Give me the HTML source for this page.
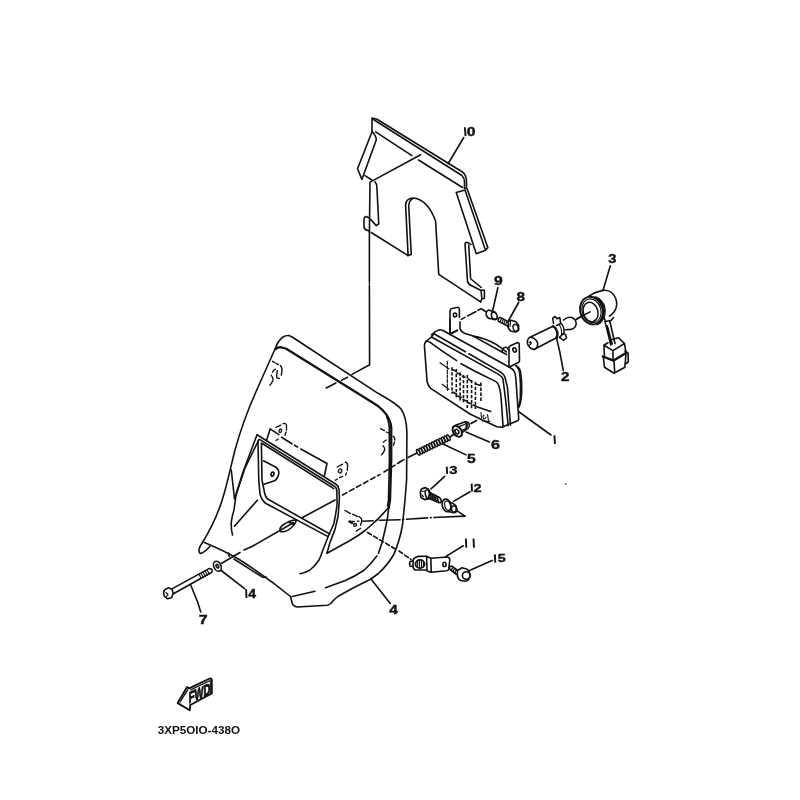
<!DOCTYPE html>
<html><head><meta charset="utf-8"><style>
html,body{margin:0;padding:0;background:#fff;width:800px;height:800px;overflow:hidden}
svg{display:block}
text{font-family:"Liberation Sans",sans-serif}
</style></head><body>
<svg width="800" height="800" viewBox="0 0 800 800">
<g fill="none" stroke="#111" stroke-width="1.6" stroke-linejoin="round" stroke-linecap="round">
<!-- 01_part_10.svg -->
<path d="M372,131 L372,118 L377,119.2 L462.8,172.3 Q466.5,175.3 466.5,182 L466.5,188.5"/>
<path d="M372.5,119 L375,120.5 L461.9,175.5 Q464.5,178 464.5,182 L464.5,188.5 L466.5,188.5"/>
<path d="M375.6,131.9 L411.9,155.6 M418.5,160 L462.5,187.5"/>
<path d="M370.6,181.9 L420.6,154.75"/>
<path d="M372.25,131.25 L357.5,168.75 L361.9,179.4 L376.25,140 Q376.5,137 373.1,132.5"/>
<path d="M365,175.6 L371.9,180"/>
<path d="M370,182.5 L369.4,232"/>
<path d="M375,181.9 Q377,184 376.9,187.5 L378.75,223.75 L376.25,225.6 L370.6,219.4"/>
<path d="M369.5,218 L366,216.5 Q364,217 364,220 L364,227 Q364.5,230 368,230.5 L369.5,231"/>
<path d="M371.25,232.5 L408.1,255.6 L405.6,205 Q406,198 413.75,198 Q428,200 435.6,221.25 L438.75,274.4 L480.6,301.9"/>
<path d="M408.1,255.6 L411.25,254.4 L408.75,206.25 Q409,200 413,198.5"/>
<path d="M465,190 L456.25,192.5 L476.25,253.75 L485.5,250.2 M465,190 L485.5,250.2 M467.3,189.2 L487.8,247.6 L485.5,250.2"/>
<path d="M471,244.5 Q466,240.5 465,244 L467.5,281.25 Q468,284 471.25,285.5 L481,290.5 L481.9,298.75 L480.6,301.9"/>
<path d="M468.75,245 L470.6,278.75 L481.25,287.5 M481,290.5 L484.4,290 L484.4,298.5 L481.9,298.75"/>
<!-- 02_part_1_headlight.svg -->
<path d="M450,333.75 L450,311.25 Q450.5,308.5 452,308.5 L458,307.3 Q459.4,307.8 459.4,309.5 L459.4,317.5"/>
<path d="M450,333.75 L457.5,330 M449.9,320 L449.9,334.6 M451.75,333.5 L457.4,330.5"/>
<ellipse cx="455" cy="315" rx="1.6" ry="2"/>
<path d="M460,321.9 L460,328.5 Q461,332 465,333.5 L473.25,336.1 Q478,337 483.75,338.75 Q492,341.5 496.9,344.9 L506.5,351.9"/>
<path d="M473.25,336.1 L506.5,354.5"/>
<path d="M502,352 Q502.5,347.5 505.5,347.3 Q508,347.5 508.5,350"/>
<path d="M426.25,341.2 L431.5,337 L434,333.6"/>
<path d="M431.5,334.8 Q435,331 439.5,329.8 Q441.5,329.8 443,330.5 L509,367"/>
<path d="M434,333.75 L465.4,351.8 M468.9,353.8 L499.5,371.4 Q504,374 505,377.5 L507.4,386.9 L510.5,425.3"/>
<path d="M431.5,337 L496,372.9 Q502,376 503,379 L505.6,400 L508.25,425.6"/>
<path d="M426.25,341.25 Q428,341 429.4,341.9 Q443,352 456.6,360.6 M461,363.7 Q477,372.5 492.5,379.9 Q497,382 497.75,383.4 Q500.5,388 501.25,400 L503,425.5 Q503,427.5 501.5,427.3 L497,426.75 Q482,420 470,414 L431,388.7 Q428,386 427.1,381.75 L424.4,345.5 Q424.5,342.5 426.25,341.25"/>
<path d="M509,367 Q513,369 514.25,371.5 Q515.5,374 515.75,377.5 L518.75,419.3 Q518.5,420.5 517,421 L502.25,427"/>
<path d="M515.75,365.5 Q520,368 520.5,372 Q522,380 521.75,390 Q521.5,402 518.75,407.5"/>
<path d="M516.5,366 Q519.5,369 519.8,374 Q521,385 520.3,398 Q519.8,404 518.2,407"/>
<path d="M509,346.75 L509,367 Q509.5,367.2 510.5,366.5 L518.7,362.2 Q519.5,361.5 519.5,360 L519.2,344 Q518.8,342.5 517.5,342.6 L510.5,345.8 Q509,346.5 509,347"/>
<ellipse cx="514.6" cy="349.9" rx="1.7" ry="2.2" transform="rotate(-20 514.6 349.9)"/>
<path d="M518.75,411.75 L551,435"/>
<!-- 03_lens_pattern.svg -->
<g stroke-width="1.2">
<path d="M440.1,362.7 L449,369 M442.2,384.3 L449,389.4"/>
<path d="M447.3,361.4 L447.3,390.3" stroke-dasharray="3,1.5"/>
</g>
<g stroke-width="1.6" stroke-dasharray="3.3,1.7" stroke-linecap="butt">
<path d="M452,367.3 L452,393.7"/>
<path d="M456.3,369 L456.3,398"/>
<path d="M460.1,372.4 L460.1,400.5"/>
<path d="M463.5,375 L463.5,402.2"/>
<path d="M467.3,375 L467.3,408.1"/>
<path d="M471.6,380 L471.6,409"/>
<path d="M475.4,381.8 L475.4,409"/>
<path d="M480.9,382.6 L480.9,402.2"/>
</g>
<g stroke-width="1.5">
<path d="M452,369.5 L456.5,371.3 M457,373 L461,374.8 M462.5,376.3 L465,377.3 M468,379 L471.5,381.2 M476,384 L480.5,385.5"/>
<path d="M452.4,392 L456.5,394 M457.5,396 L461.5,397.5 M463,399.5 L466.5,401 M468,402.5 L471.5,404 M473,405 L476.5,406.5 M477.5,407 L490.7,411.5"/>
<path d="M481,412.5 L481.5,418 M484,415 Q482.5,416 483.5,418.5 Q485.5,419.5 486,417 M487.5,414.5 L488.5,421 M482,421 L490,421.5" stroke-width="1.1"/>
</g>
<!-- 04_parts_9_8.svg -->
<path d="M461.25,319.4 L465,317.4 M467.5,316 L476,311.5 M478,310.3 L481.25,308.75 L485.6,311.5"/>
<path d="M488.4,310.1 L494.6,312.1 M490.1,318.6 L496.3,319.2 M488.4,310.1 Q485.5,311.5 486.3,315 Q487.3,318.3 490.1,318.6"/>
<ellipse cx="494.3" cy="315.9" rx="2.7" ry="3.8" transform="rotate(-20 494.3 315.9)" stroke-width="1.6"/>
<path d="M492.65,310.7 L497.9,287.5"/>
<path d="M500.25,317.4 L508.7,321.9 M498.5,321.4 L508.1,326.4 M500.25,317.4 Q497.5,318 498.5,321.4"/>
<path d="M501.5,318.5 L500.3,321.6 M503.3,319.5 L502.1,322.6 M505.1,320.4 L503.9,323.5 M506.9,321.3 L505.7,324.4" stroke-width="1.2"/>
<path d="M508.3,321.5 L511,320.3 L515.5,321.5 L518.5,325 L518.6,330 L515.5,332 L510.5,331 L508.1,327.5 Z" stroke-width="1.7" fill="#fff"/>
<ellipse cx="515.7" cy="327.9" rx="2.5" ry="3.6" transform="rotate(-20 515.7 327.9)" stroke-width="1.4"/>
<path d="M510.5,321.5 L510,326.5" stroke-width="1.2"/>
<path d="M508.7,320.25 L518.8,302.25"/>
<!-- 05_part_4_cover.svg -->
<path d="M202.5,542.5 Q197,550 200,553.3 Q203,554 210,546.25"/>
<path d="M202.5,542.5 C212,527 219,512 224,494 C228,480 231,466 235,450 C240,432 247,412 255,394 C262,378 270,360 275.5,348 Q278.5,340 283,337 Q286,335.3 289,335.6 Q292.5,337 296,339.5 L378,393.3 C386,397.8 396,403 401,409 C404.5,414 406.5,421 406.9,432 L406.6,480 L405,500 L402.5,525 Q400,540 393.75,554.5 Q387,566 378,573.75 L371,579 Q362,583.5 353.5,587.75 L337.75,596.5 Q333.5,600 330.75,603.5 Q329,605 327.25,605.25 L297.5,607 Q293,606 292.25,603.5 L290.5,596.5"/>
<path d="M204.4,542.5 Q225,551 240,560 Q268,578 290.5,596.5"/>
<path d="M275.5,349 Q278,347 281.25,347.3 Q284,347.8 286.25,348.75 L372.5,402.5 Q378,405.5 382.5,410 Q386.5,414 388.75,418.75 Q391,423 391.25,427.5 L391.25,460 L390,500 L388.75,507.5" stroke-width="2.3"/>
<path d="M388.75,507.5 Q388,518 385,530 Q382.5,543 378.5,553.3 M376.8,556 Q371,564 364,570.25 Q354,577 344.75,580.75 L325.5,587.75 M315,591.25 L292.25,596.5"/>
<path d="M388.75,507.5 Q378,520 365.75,530 Q358,536 350,540.5 L327,553.25"/>
<path d="M386.6,416.5 Q388.8,421 389.3,427 L389.4,460 L388.5,500 L387.6,506"/>
<!-- 06_window_frame.svg -->
<path d="M231.25,470 L234.5,499 L243,472 L257.05,434.75 L335.6,484 Q338.6,486 339,489.5 L339.4,498 L338.25,515 Q337,522 334.9,529.6 L329.8,543 L327,553.25"/>
<path d="M258,441.5 Q258.5,439.2 260,439.6 L334.3,486.2 Q336.6,487.8 336.8,490.5 L337.1,503.75 Q336,514 333.75,524 L328.7,535.25 L322.5,551 Q320.5,557 319,560 Q315,566 310,570 Q305,573 300,573.75"/>
<path d="M258,441.5 L245,468 L236,495 L234,510 Q232,516 231.25,522.5 Q231,530 232.5,535"/>
<path d="M258,441.5 L258.75,480 L260,494 Q262,501 266,503.5 L327.6,536.4"/>
<path d="M261.4,443 L333.8,488.6 M261.4,443 L262,480 L264.4,492 Q265.5,498 268.5,499.5 L329.8,534"/>
<path d="M234.4,526.25 L257.5,500"/>
<!-- 07_tab_with_hole.svg -->
<path d="M263.5,460.8 L275.5,467 Q279.3,469.5 278.8,473.5 Q278,478.5 274.5,480.8 L264,484.3"/>
<ellipse cx="272.5" cy="474.1" rx="1.4" ry="2.1" transform="rotate(15 272.5 474.1)" stroke-width="1.7"/>
<!-- 08_label_rect.svg -->
<path d="M266.6,440.3 L270.1,428.9 L278.9,434.6 M281.5,437.25 L292,443.8 M294.5,445.2 L297.5,447 M300.75,449 L327,463.5 L324.4,475.75"/>
<!-- 09_blade.svg -->
<path d="M233.9,559 L262,576.9 Q264,577.6 266,577"/>
<path d="M228.5,553.2 L229.3,556.3" stroke-width="1.8"/>
<!-- 10_slot.svg -->
<path d="M280,531.25 Q279,528 283,525 Q290,520 296.25,520 Q296,524 291,528 Q285,533 280,531.25 Z"/>
<path d="M289,522 L293.5,524" stroke-width="2.4"/>
<!-- 11_part_2_bulb.svg -->
<path d="M529.5,337.5 L553,326.3 M534,349.5 L556.5,337.8"/>
<path d="M529.5,337.5 Q526.5,340 527.6,344 Q529,348.5 534,349.5"/>
<path d="M531.75,337.5 Q536.5,339 537.75,343.5 Q537.5,348 535.2,349"/>
<path d="M529,342 L531,343.5 L529.2,345.5 M530.5,341.5 Q532,343 530.6,344.5" stroke-width="1.1"/>
<path d="M553,326.3 Q557.5,329 557.5,335 L556.5,337.8" stroke-width="2.4"/>
<path d="M556.5,325.5 L561,323.5 Q564.5,326.5 564,333 L559.5,337.3"/>
<path d="M559,324.5 Q562,328 561.5,334.5" stroke-width="1.1"/>
<path d="M553.5,323.5 L552.8,318.2 L555,316.5 L557,318.8 L559.8,317.5 L560.5,322.5"/>
<path d="M562,333.8 L565.5,334.5 L566.5,338 L563.5,340.5 L561,338.5 L559.5,337.3"/>
<path d="M563.5,320 Q567,316.8 571.5,317.4 Q576.3,319 576.2,323.8 Q575.8,328.5 571,329.4 L565.5,329.8"/>
<path d="M576,319.5 L590,311.9" stroke-dasharray="5,2"/>
<path d="M556.5,337.8 L559.8,352 L563.3,370.7"/>
<!-- 12_part_3_socket.svg -->
<path d="M588.5,296.5 Q595,292 602.5,290.4 Q608,289.5 611.5,292.5 Q615.5,296 616.5,301.5 Q617.5,307 614,312 Q612,314.5 609.5,316"/>
<path d="M603,290.4 L610.3,265.75"/>
<path d="M603.75,316.5 L605.5,321.5 L611,320.5 L613.5,317.5"/>
<path d="M595.5,297.5 Q603.5,302 603.8,311 Q603.5,320.5 597.5,324" stroke-width="2.6"/>
<path d="M598.5,298.2 Q605.3,303 605.3,311 Q605,319 600,323" stroke-width="1.1"/>
<ellipse cx="591.5" cy="310.6" rx="11.2" ry="14" transform="rotate(-16 591.5 310.6)" stroke-width="1.9" fill="#fff"/>
<ellipse cx="591.5" cy="310.8" rx="9.4" ry="12" transform="rotate(-16 591.5 310.8)" stroke-width="1.2"/>
<ellipse cx="590.6" cy="312" rx="7.3" ry="9.8" transform="rotate(-16 590.6 312)" stroke-width="1.5"/>
<path d="M590,311.9 L577,318.7" />
<path d="M605,321.5 L610.8,345 M609.8,321.2 L615,343.5 M607.3,326 L612.2,344" />
<path d="M603.9,345.2 L613,350.6 L624.5,343.5 L618.4,337.7 L612,339.5 M603.9,345.2 L608,342.8 M613,350.6 L613,358.7 M603.9,345.2 L604.5,356.5 M624.5,343.5 L626,352.5"/>
<path d="M602.8,356.5 L613.6,360.6 L626,353" stroke-width="2.4"/>
<path d="M603.4,357.6 L604.5,367.3 L614,373.2 L624.9,367.3 L626,353.3 M614,360.8 L614.7,372.6"/>
<path d="M624.9,351 L628.1,353 L628.3,362 L625.3,364"/>
<!-- 13_part_5_spring.svg -->
<path d="M400,461.75 L404,459.6 M408,457.5 L417,453" />
<g stroke-width="1.45">
<ellipse cx="418.30" cy="452.30" rx="1.3" ry="3.1" transform="rotate(-26.1 418.30 452.30)"/>
<ellipse cx="420.80" cy="451.07" rx="1.3" ry="3.1" transform="rotate(-26.1 420.80 451.07)"/>
<ellipse cx="423.30" cy="449.85" rx="1.3" ry="3.1" transform="rotate(-26.1 423.30 449.85)"/>
<ellipse cx="425.80" cy="448.62" rx="1.3" ry="3.1" transform="rotate(-26.1 425.80 448.62)"/>
<ellipse cx="428.30" cy="447.40" rx="1.3" ry="3.1" transform="rotate(-26.1 428.30 447.40)"/>
<ellipse cx="430.80" cy="446.18" rx="1.3" ry="3.1" transform="rotate(-26.1 430.80 446.18)"/>
<ellipse cx="433.30" cy="444.95" rx="1.3" ry="3.1" transform="rotate(-26.1 433.30 444.95)"/>
<ellipse cx="435.80" cy="443.73" rx="1.3" ry="3.1" transform="rotate(-26.1 435.80 443.73)"/>
<ellipse cx="438.30" cy="442.50" rx="1.3" ry="3.1" transform="rotate(-26.1 438.30 442.50)"/>
<ellipse cx="440.80" cy="441.28" rx="1.3" ry="3.1" transform="rotate(-26.1 440.80 441.28)"/>
<ellipse cx="443.30" cy="440.05" rx="1.3" ry="3.1" transform="rotate(-26.1 443.30 440.05)"/>
<ellipse cx="445.80" cy="438.83" rx="1.3" ry="3.1" transform="rotate(-26.1 445.80 438.83)"/>
<ellipse cx="448.30" cy="437.60" rx="1.3" ry="3.1" transform="rotate(-26.1 448.30 437.60)"/>
</g>
<path d="M443,444 L466,454.9"/>
<!-- 14_part_6_grommet.svg -->
<path d="M450,437 L455,433.5"/>
<path d="M455.5,425.3 L465.3,421.8 Q468.5,421.8 469.3,424.5 Q469.8,426.5 468.5,427.8 L462,432.5"/>
<path d="M465.5,422.3 Q467.5,424 466.5,427.3" stroke-width="2.2"/>
<path d="M459.5,426.4 L464.5,424.5 M462,430.3 L466.8,428" stroke-width="1.3"/>
<ellipse cx="457.3" cy="431.3" rx="4" ry="6" transform="rotate(-35 457.3 431.3)" stroke-width="2" fill="#fff"/>
<ellipse cx="456.9" cy="431.6" rx="1.7" ry="2.5" transform="rotate(-35 456.9 431.6)"/>
<path d="M466,432 L489.4,441.9"/>
<path d="M471,423.5 L476.5,420.5" stroke-width="1.6"/>
<!-- 15_part_7_bolt.svg -->
<path d="M171,589.4 L209,568.6 Q212.5,568.5 212.2,571.2 Q211.8,572.3 211,572.8 L172.5,594.3"/>
<path d="M199.2,574.6 L201.2,578.5 M201.2,573.5 L203.2,577.4 M203.2,572.4 L205.2,576.3 M205.2,571.3 L207.2,575.2 M207.2,570.2 L209.2,574.1" stroke-width="1.1"/>
<path d="M165,589.5 L168.5,587.8 L172,589.3 L173.2,593.5 L171.5,597.8 L167.5,598.8 L164.2,596 L163.6,592 Z" stroke-width="1.6" fill="#fff"/>
<path d="M166,592.5 L168,594.5 L166.5,596.3" stroke-width="1.1"/>
<path d="M190.6,584.75 L197.6,602 L200.75,612"/>
<!-- 16_part_14_washer.svg -->
<ellipse cx="217.4" cy="566.2" rx="3.6" ry="5.2" transform="rotate(-25 217.4 566.2)" stroke-width="1.6"/>
<ellipse cx="217.4" cy="566.2" rx="1.2" ry="1.9" transform="rotate(-25 217.4 566.2)"/>
<path d="M220.9,570.25 L244.5,588.6"/>
<!-- 17_part_13_bolt.svg -->
<path d="M428.5,492 L438.5,497 M428.5,498.25 L438.5,502.6"/>
<ellipse cx="439.3" cy="499.9" rx="1.6" ry="2.9" transform="rotate(-25 439.3 499.9)"/>
<g stroke-width="1.3">
<ellipse cx="431.5" cy="495.8" rx="1.2" ry="3" transform="rotate(-25 431.5 495.8)"/>
<ellipse cx="433.8" cy="497" rx="1.2" ry="3" transform="rotate(-25 433.8 497)"/>
<ellipse cx="436.1" cy="498.2" rx="1.2" ry="3" transform="rotate(-25 436.1 498.2)"/>
</g>
<path d="M421.5,489 L425,487.6 L428.5,489.2 L429.5,494 L428.2,498.8 L424.5,499.6 L421,497.5 L420.3,492.5 Z" stroke-width="1.7" fill="#fff"/>
<ellipse cx="428" cy="494.3" rx="2.6" ry="4.6" transform="rotate(-15 428 494.3)" stroke-width="1.5"/>
<path d="M422.5,491.5 L424.5,491 M422,495 L423.3,496.5" stroke-width="1.2"/>
<path d="M431,488.9 L444.7,476.3"/>
<!-- 18_part_12_collar.svg -->
<path d="M448.5,501.5 L453,503.5 Q457,505.5 456.6,509.5 Q456,512.8 452.5,512.5 L448.5,511.5"/>
<ellipse cx="446.6" cy="505.4" rx="4.3" ry="6.5" transform="rotate(-15 446.6 505.4)" stroke-width="1.6" fill="#fff"/>
<ellipse cx="447.6" cy="505.6" rx="2.8" ry="4.9" transform="rotate(-15 447.6 505.6)" stroke-width="1.2"/>
<ellipse cx="454.1" cy="509.2" rx="2.5" ry="3.4" transform="rotate(-15 454.1 509.2)"/>
<path d="M453.5,501.4 L470,491.7"/>
<path d="M465,516.1 L456,510.1"/>
<path d="M465,516.1 L434,517.5 M431.2,517.6 L430.4,517.7 M427.6,517.9 L406.5,519.2 M403.7,519.4 L402.9,519.5 M400.1,519.7 L379.5,520.2 M376.7,520.4 L375.9,520.5 M373.1,520.7 L362.5,521.25"/>
<!-- 19_part_11_stay.svg -->
<path d="M430.75,558.25 L447.5,557 Q449.8,557.3 449.8,560 L448.6,569.5 Q448.2,570.6 446.5,570.8 L430.75,572.3"/>
<ellipse cx="444.4" cy="564.4" rx="1.6" ry="2.1"/>
<path d="M426.6,556.3 L430.75,558.25 L431.3,572.3 L427,571 L426.6,556.3 Z"/>
<path d="M426.6,556.3 L418.4,556.4 Q414,557.5 413.2,560 L413,566.5 Q413.5,569.5 415.5,570 L426,570"/>
<ellipse cx="420" cy="564" rx="4.6" ry="4.2" stroke-width="1.7"/>
<path d="M417.5,561 L417.2,567 M419.5,560.2 L419.3,567.8 M421.5,560.2 L421.5,567.8 M423.5,561 L423.5,567" stroke-width="1.2"/>
<path d="M413,561 L410,561.5 Q409.2,563.5 410,566 L413,566.5"/>
<path d="M445.6,556.6 L463.25,545.75"/>
<path d="M367.5,532.5 L395,548.75 M399,551 L411,559.5" stroke-dasharray="4.5,2.5"/>
<!-- 20_part_15_bolt.svg -->
<path d="M451.5,566 L458.5,571 M449.5,569 L456.5,574.5 M451.5,566 Q448.8,566.8 449.5,569"/>
<path d="M453.2,567.2 Q451.2,568.6 451.6,570.6 M455,568.5 Q453,570 453.4,572 M456.8,569.8 Q454.8,571.2 455.2,573.2" stroke-width="1.2"/>
<path d="M457.5,570.5 L462,567.8 L466.5,569 Q470,571 470,576 Q469.5,580.5 465.5,581.3 L460.5,580.5 Q457.3,578.5 457.3,574.5 Z" stroke-width="1.6" fill="#fff"/>
<circle cx="466.2" cy="575.6" r="3.8"/>
<path d="M469.5,570.6 L492.1,560.4"/>
<!-- 21_leaders.svg -->
<path d="M448.1,163.75 L463.75,137.5"/>
<path d="M371,579 L390.25,603.5"/>
<!-- 22_part10_vertical_centerline.svg -->
<path d="M369.4,232 L369.4,282 M369.4,283.4 L369.4,284 M369.4,285.5 L369.6,364.7 L352,374.4 M347.5,377.25 L341.5,380.4 M336,383 L326.25,388"/>
<!-- 23_fwd_arrow.svg -->
<path d="M177.7,703.1 L187.1,687.1 L189.2,688.4 L209.7,678.5 Q211.8,678.6 211.8,680 L211.8,693.4 L190.3,705 L189.75,710.2 Z" stroke-width="1.9"/>
<path d="M180,702.2 L188,689.6 M190.5,690 L210.3,680.6 M210.3,680.6 L210.3,692.8" stroke-width="1.1"/>
<path d="M180.8,700 L187,690.5 M191.5,689.3 L209,681" stroke-width="0.8" stroke-dasharray="1,1"/>
<!-- 24_fasteners.svg -->
<g stroke-width="1.35">
<path d="M272.5,361.3 L274.7,362.65 M276,363.3 L278.6,364.6 M280.4,365.5 Q282.6,368 282,371 L281.25,375.1 M275.5,369.2 Q273.5,370 272.5,372.1 M277.3,370.75 Q276.2,375 276.9,377.75 L279.5,378.6 M271.2,375.1 Q273.5,378 272.9,380.4 Q271.8,383 269.9,385.2"/>
<path d="M276,427.4 L280.9,425.1 M283.1,423.6 Q286.5,423 286.5,425.5 L286.5,430 M286,432 L285,435.25 M276,440.5 L278.25,439"/>
<ellipse cx="280.3" cy="430.75" rx="1.2" ry="1.8" transform="rotate(20 280.3 430.75)"/>
<path d="M380.5,428.7 L384.4,430.6 M386.25,432 L388.6,433 M393.4,436.25 Q395.2,438 394.8,440 M394.5,442 L393.4,445.3 M386.25,440 Q384,441 383.4,442.4 M383,445.75 Q384.8,447.5 384.8,449.5 Q384,452.5 381.5,454.8"/>
<path d="M337.1,467 L342.6,464.1 M345.2,462.2 Q347.7,463 347.6,465.5 L347.3,470.4 M346.45,473 L345.6,475.1 M342.6,476.4 L339.65,477.7 M337.5,479 L335.4,480.2"/>
<ellipse cx="340.1" cy="470.9" rx="1.6" ry="2" transform="rotate(20 340.1 470.9)"/>
<path d="M344.9,510.4 L350.5,513.6 M352.75,514.2 L357.6,516.6 M359.1,516.6 Q361.75,518 361.75,520 L361.6,521.9 L360.4,525.25 M349.4,521.5 L354.25,521.5 M356.1,531.25 L360.6,528.25 M357.25,521.1 L359,521.1"/>
<path d="M349.4,521.5 L352,523" stroke-width="2.2"/>
<circle cx="355" cy="524.9" r="1.4"/>
</g>
<!-- 25_centerline_7_6.svg -->
<path d="M221.75,563.25 L240,552.5 M244,550 L252.5,546.25 L293.75,522.5 M302.5,517.5 L335,500"/>
<path d="M342.5,495 L380,474.4 M384,472 L400,462" stroke-dasharray="5,3"/>
<!-- 26_speck.svg -->
<circle cx="565.8" cy="483.9" r="0.9" fill="#555" stroke="none"/>
</g>
<g style="opacity:0.999">
<g class="lbl" fill="#111" stroke="#111" stroke-width="3" font-weight="bold">
<text font-size="100" transform="matrix(0.15789 0 0 0.12359 466.87 135.88)">0</text>
<text font-size="100" transform="matrix(0.15702 0 0 0.12712 494.05 284.77)">9</text>
<text font-size="100" transform="matrix(0.15314 0 0 0.12288 516.61 300.78)">8</text>
<text font-size="100" transform="matrix(0.14688 0 0 0.12694 608.26 263.36)">3</text>
<text font-size="100" transform="matrix(0.15177 0 0 0.13682 561.07 380.80)">2</text>
<text font-size="100" transform="matrix(0.16149 0 0 0.12359 491.00 448.63)">6</text>
<text font-size="100" transform="matrix(0.15694 0 0 0.12464 467.01 462.68)">5</text>
<text font-size="100" transform="matrix(0.14889 0 0 0.10437 449.26 473.89)">3</text>
<text font-size="100" transform="matrix(0.14553 0 0 0.11318 473.59 491.50)">2</text>
<text font-size="100" transform="matrix(0.14386 0 0 0.11819 497.65 562.13)">5</text>
<text font-size="100" transform="matrix(0.15299 0 0 0.13081 389.17 613.80)">4</text>
<text font-size="100" transform="matrix(0.13993 0 0 0.13081 248.29 598.00)">4</text>
<text font-size="100" transform="matrix(0.15991 0 0 0.13081 198.81 623.50)">7</text>
</g>
<g stroke="#111" stroke-width="1.9" stroke-linecap="butt" fill="none">
<path d="M464.9,127.3 L465.5,136.0"/>
<path d="M554.3,435.4 L555.0,443.8"/>
<path d="M446.7,466.6 L447.2,474.0"/>
<path d="M471.6,483.6 L472.0,491.5"/>
<path d="M465.9,538.6 L466.3,547.6"/>
<path d="M473.5,538.6 L474.0,547.6"/>
<path d="M494.8,554.4 L495.3,562.6"/>
<path d="M246.1,589.0 L246.5,598.0"/>
</g>

<text x="157.7" y="733.5" font-size="10" font-weight="bold" fill="#111" textLength="82.3" lengthAdjust="spacingAndGlyphs">3XP5OIO-438O</text>
<text x="0" y="0" font-size="100" fill="#111" stroke="#111" stroke-width="6" font-weight="bold" transform="matrix(0.0955 -0.0425 0 0.158 188.8 703.4)">FWD</text>
</g>
</svg>
</body></html>
